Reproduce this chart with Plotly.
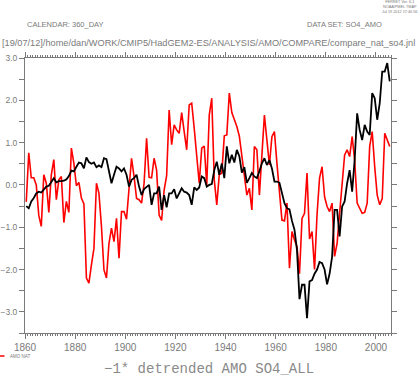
import plotly.graph_objects as go

years = list(range(1860, 2006))

amo_so4_all = [
    -0.50, -0.55, -0.39, -0.31, -0.20, -0.16, -0.18, -0.12, -0.04, -0.02,
    0.08, 0.16, 0.06, 0.09, 0.09, 0.10, 0.13, 0.21, 0.34, 0.32,
    0.43, 0.53, 0.51, 0.39, 0.65, 0.54, 0.50, 0.53, 0.42, 0.46,
    0.42, 0.63, 0.61, 0.32, 0.04, 0.24, 0.43, 0.39, 0.32, 0.39,
    0.24, -0.04, 0.12, 0.16, 0.24, -0.04, -0.24, -0.10, -0.04, 0.00,
    -0.47, -0.20, -0.20, -0.04, -0.59, -0.24, -0.53, -0.20, -0.20, -0.10,
    -0.32, -0.18, -0.08, -0.16, -0.18, -0.24, -0.47, -0.06, -0.12, -0.06,
    0.20, 0.16, -0.04, 0.00, 0.02, 0.35, 0.55, 0.24, 0.51, 0.16,
    0.91, 0.51, 0.71, 0.53, 0.83, 0.68, 0.29, 0.42, 0.05, 0.16,
    0.28, 0.20, 0.16, 0.32, 0.51, 0.63, 0.47, 0.59, 0.39, 0.08,
    0.08, 0.05, -0.20, -0.43, -0.55, -0.58, -0.85, -1.06, -1.54, -2.70,
    -2.36, -2.36, -3.15, -2.28, -2.25, -2.10, -2.00, -1.82, -1.85, -2.00,
    -2.35, -2.10, -1.70, -0.59, -0.59, -1.22, -0.51, -0.39, 0.04, 0.35,
    -0.16, 0.59, 1.69, 1.30, 1.06, 1.42, 1.26, 1.18, 2.17, 2.05,
    1.54, 1.93, 2.68, 2.68, 2.88, 2.45,
]

amo_nat = [
    -0.40, 0.76, 0.17, 0.17, 0.00, -0.72, -0.98, 0.24, 0.04, -0.65,
    0.24, 0.60, -0.35, 0.12, 0.20, -0.89, -0.39, -0.65, 0.87, 0.51,
    -0.02, 0.06, -0.31, -0.45, -2.20, -2.32, -1.89, -1.50, 0.04, -0.20,
    -0.98, -2.01, -2.20, -1.38, -1.02, -1.34, -0.79, -1.73, -0.63, -0.63,
    -0.81, -0.12, 0.63, 0.20, -0.32, -0.35, -0.43, 0.04, 1.10, 0.18,
    0.17, 0.63, 0.35, -0.71, -0.84, -0.12, 0.22, 1.77, 0.95, 1.42,
    1.30, 1.22, 1.71, 1.26, 0.83, 1.89, 1.93, 1.34, 0.75, 0.04,
    0.87, 0.92, 0.00, 1.65, 2.05, 0.12, -0.47, 0.24, 0.28, 1.16,
    1.18, 2.17, 1.71, 1.54, 1.38, 1.15, 0.70, 0.18, -0.24, -0.08,
    -0.59, 0.91, 0.83, -0.24, 0.75, 1.65, 1.06, 0.47, 1.14, 1.26,
    0.51, -0.10, -0.83, -0.85, -0.43, -1.97, -1.10, -1.30, -1.46, -2.10,
    -0.79, -0.67, 0.28, -1.28, -1.10, -2.00, -0.70, 0.16, 0.43, -0.28,
    -0.51, -0.63, -0.43, -1.69, -1.38, -0.67, 0.08, 0.71, 0.83, 0.67,
    1.14, 0.59, -0.43, -0.55, -0.67, -0.65, -0.43, 0.91, 1.26, 0.43,
    -0.24, -0.47, -0.32, 1.22, 1.06, 0.91,
]

x_tick_vals = [1860, 1880, 1900, 1920, 1940, 1960, 1980, 2000]
x_tick_text = ["1860", "1880", "1900", "1920", "1940", "1960", "1980", "2000"]
y_tick_vals = [-3.5, -3.0, -2.5, -2.0, -1.5, -1.0, -0.5, 0.0, 0.5, 1.0, 1.5, 2.0, 2.5, 3.0]
y_tick_text = ["", "\u22123.0", "", "\u22122.0", "", "\u22121.0", "", "0.0", "", "1.0", "", "2.0", "", "3.0"]

x_mid = [y + 0.5 for y in years]

GRAY = "#7a7a7a"
W, H = 419, 377
L, R, T, B = 25, 28, 58, 44
PW, PH = W - L - R, H - T - B


def px(xs):
    return (xs - L) / PW


def py(ys):
    return (H - B - ys) / PH


fig = go.Figure()
fig.add_trace(go.Scatter(x=x_mid, y=amo_nat, mode="lines", name="AMO NAT",
                         line=dict(color="#ff0000", width=1.6), showlegend=False))
fig.add_trace(go.Scatter(x=x_mid, y=amo_so4_all, mode="lines", name="SO4_ALL",
                         line=dict(color="#000000", width=1.8), showlegend=False))

fig.update_xaxes(
    range=[1860, 2006], showgrid=False, zeroline=False, automargin=False,
    showline=True, linecolor=GRAY, linewidth=1, mirror="ticks",
    ticks="outside", ticklen=5, tickcolor=GRAY, tickwidth=1,
    tickvals=x_tick_vals, ticktext=x_tick_text,
    tickfont=dict(family="Liberation Sans, Arial, sans-serif", size=10, color=GRAY),
    minor=dict(dtick=1, tick0=1860, ticks="outside", ticklen=2, tickcolor=GRAY, showgrid=False),
)
fig.update_yaxes(
    range=[-3.5, 3.0], showgrid=False, zeroline=False, automargin=False,
    showline=True, linecolor=GRAY, linewidth=1, mirror="ticks",
    ticks="outside", ticklen=5, tickcolor=GRAY, tickwidth=1,
    tickvals=y_tick_vals, ticktext=y_tick_text,
    tickfont=dict(family="Liberation Sans, Arial, sans-serif", size=8.5, color=GRAY),
)

ann_font = "Liberation Sans, Arial, sans-serif"
annotations = [
    dict(text="CALENDAR: 360_DAY", x=px(25), y=py(25), xanchor="left", yanchor="middle",
         font=dict(family=ann_font, size=7.5, color=GRAY)),
    dict(text="DATA SET: SO4_AMO", x=px(384), y=py(25), xanchor="right", yanchor="middle",
         font=dict(family=ann_font, size=7.5, color=GRAY)),
    dict(text="[19/07/12]/home/dan/WORK/CMIP5/HadGEM2-ES/ANALYSIS/AMO/COMPARE/compare_nat_so4.jnl",
         x=px(0), y=py(43), xanchor="left", yanchor="middle",
         font=dict(family=ann_font, size=9.2, color=GRAY)),
    dict(text="FERRET Ver. 6.1<br>NOAA/PMEL TMAP<br>Jul 19 2012 17:40:56",
         x=px(399), y=py(7), xanchor="center", yanchor="middle",
         font=dict(family=ann_font, size=3.8, color=GRAY)),
    dict(text="AMO NAT", x=px(8), y=py(356), xanchor="left", yanchor="middle",
         font=dict(family=ann_font, size=4.5, color=GRAY)),
    dict(text="\u22121* detrended AMO SO4_ALL", x=px(209), y=py(369), xanchor="center", yanchor="middle",
         font=dict(family="Liberation Mono, DejaVu Sans Mono, monospace", size=14, color="#8a8a8a")),
]
for a in annotations:
    a.update(xref="paper", yref="paper", showarrow=False)

fig.update_layout(
    width=W, height=H, margin=dict(l=L, r=R, t=T, b=B, pad=0),
    paper_bgcolor="white", plot_bgcolor="white",
    annotations=annotations,
    hovermode=False,
    shapes=[dict(type="line", xref="paper", yref="paper", x0=px(0), x1=px(4.5), y0=py(356), y1=py(356),
                 line=dict(color="#ff0000", width=1.5))],
)

# the page's default 8px body margin would shift the 419x377 figure inside the window
fig.write_html("out.html", config={"displayModeBar": False},
               post_script="document.body.style.margin='0px';")
